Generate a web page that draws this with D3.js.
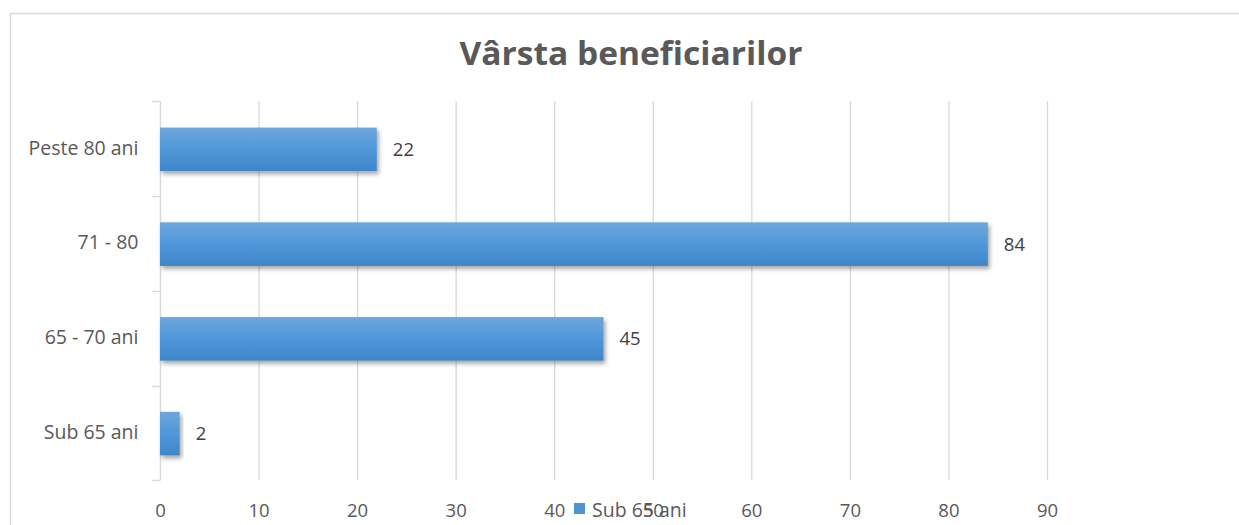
<!DOCTYPE html>
<html><head><meta charset="utf-8">
<script src="https://cdn.jsdelivr.net/npm/d3@7"></script>
<style>body{margin:0;background:#fff;}svg{display:block;}</style>
</head><body><svg id="c" width="1239" height="525"></svg>
<script>
const categories = ["Sub 65 ani", "65 - 70 ani", "71 - 80", "Peste 80 ani"];
const values = [2, 45, 84, 22];
const xTicks = [0, 10, 20, 30, 40, 50, 60, 70, 80, 90];
const seriesName = "Sub 65 ani";
const title = "Vârsta beneficiarilor";

const svg = d3.select("#c");
const font = "'Open Sans', 'Noto Sans', sans-serif";
const defs = svg.append("defs");
const g1 = defs.append("linearGradient").attr("id","bg").attr("x1",0).attr("y1",0).attr("x2",0).attr("y2",1);
g1.append("stop").attr("offset","0%").attr("stop-color","#6ea6dc");
g1.append("stop").attr("offset","50%").attr("stop-color","#4f97d9");
g1.append("stop").attr("offset","100%").attr("stop-color","#3f86c8");
const f = defs.append("filter").attr("id","sh").attr("x","-10%").attr("y","-20%").attr("width","130%").attr("height","160%");
f.append("feDropShadow").attr("dx",2).attr("dy",3).attr("stdDeviation",2).attr("flood-color","#000").attr("flood-opacity",0.35);

// frame
svg.append("path").attr("d","M10.5,525 V13.5 H1239").attr("fill","none").attr("stroke","#d9d9d9").attr("stroke-width",1.5);

const x = d3.scaleLinear().domain([0,90]).range([160,1047]);
const y = d3.scaleBand().domain(categories.slice().reverse()).range([101,480]).paddingInner(0.54).paddingOuter(0.27);

// gridlines
svg.append("g").selectAll("line").data(xTicks.slice(1)).join("line")
  .attr("x1",d=>x(d)+0.5).attr("x2",d=>x(d)+0.5).attr("y1",101).attr("y2",480)
  .attr("stroke","#d9d9d9").attr("stroke-width",1.3);

// y axis
const ya = d3.axisLeft(y).tickSize(0).tickPadding(22);
const yg = svg.append("g").attr("transform","translate(160.5,0)").call(ya);
yg.select(".domain").remove();
yg.selectAll("text").attr("font-family",font).attr("font-size",19.5).attr("fill","#595959");
svg.append("line").attr("x1",160.5).attr("x2",160.5).attr("y1",101).attr("y2",480).attr("stroke","#d9d9d9").attr("stroke-width",1.5);
const bandEdges = [101,196,291,386,480];
svg.append("g").selectAll("line").data(bandEdges).join("line")
  .attr("x1",152).attr("x2",160.5).attr("y1",d=>d+0.5).attr("y2",d=>d+0.5)
  .attr("stroke","#d9d9d9").attr("stroke-width",1.5);

// x axis labels
const xa = d3.axisBottom(x).tickValues(xTicks).tickSize(0).tickPadding(24);
const xg = svg.append("g").attr("transform","translate(0,480)").call(xa);
xg.select(".domain").remove();
xg.selectAll("text").attr("font-family",font).attr("font-size",18.5).attr("fill","#595959");

// bars
const data = categories.map((c,i)=>({c, v: values[i]}));
svg.append("g").selectAll("rect").data(data).join("rect")
  .attr("x",x(0)).attr("y",d=>y(d.c)+1).attr("width",d=>x(d.v)-x(0)).attr("height",y.bandwidth())
  .attr("fill","url(#bg)").attr("filter","url(#sh)");

svg.append("g").selectAll("text").data(data).join("text")
  .attr("x",d=>x(d.v)+16).attr("y",d=>y(d.c)+1+y.bandwidth()/2).attr("dy","0.35em")
  .attr("font-family",font).attr("font-size",18.5).attr("fill","#404040").text(d=>d.v);

// title
svg.append("text").attr("x",631).attr("y",65).attr("text-anchor","middle")
  .attr("font-family",font).attr("font-weight","bold").attr("font-size",32).attr("fill","#595959")
  .attr("textLength",343).attr("lengthAdjust","spacingAndGlyphs").text(title);

// legend
svg.append("rect").attr("x",574).attr("y",503).attr("width",11).attr("height",11).attr("fill","#4f93d4");
svg.append("text").attr("x",592).attr("y",510).attr("dy","0.35em").attr("font-family",font).attr("font-size",19.5).attr("fill","#595959").text(seriesName);
</script></body></html>
